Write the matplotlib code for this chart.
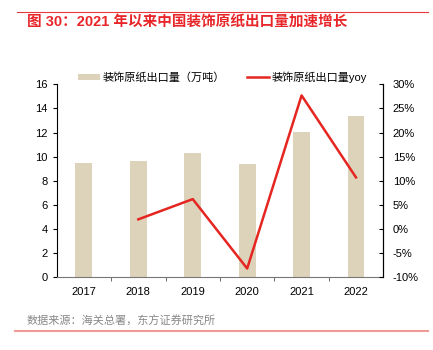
import matplotlib
matplotlib.use("Agg")
import matplotlib.pyplot as plt
from matplotlib.lines import Line2D
from matplotlib.patches import Patch
from matplotlib.ticker import FuncFormatter

plt.rcParams["font.family"] = ["Liberation Sans", "Noto Sans CJK SC", "DejaVu Sans"]

years = ["2017", "2018", "2019", "2020", "2021", "2022"]
volume = [9.45, 9.67, 10.28, 9.42, 12.04, 13.4]
yoy_years = ["2018", "2019", "2020", "2021", "2022"]
yoy = [2.0, 6.2, -8.2, 27.7, 10.7]

title = "图 30：2021 年以来中国装饰原纸出口量加速增长"
source = "数据来源：海关总署，东方证券研究所"
bar_label = "装饰原纸出口量（万吨）"
line_label = "装饰原纸出口量yoy"

bar_color = "#ddd3bb"
line_color = "#e52520"

fig = plt.figure(figsize=(4.33, 3.5), dpi=100)
ax = fig.add_axes([0.131, 0.208, 0.754, 0.551])
ax2 = ax.twinx()

x = list(range(len(years)))
ax.bar(x, volume, width=0.31, color=bar_color, zorder=2)
xl = [years.index(y) for y in yoy_years]
ax2.plot(xl, yoy, color=line_color, lw=1.8, zorder=3)

ax.set_xlim(-0.5, len(years) - 0.5)
ax.set_ylim(0, 16)
ax.set_yticks(range(0, 17, 2))
ax2.set_ylim(-10, 30)
ax2.set_yticks(range(-10, 31, 5))
ax2.yaxis.set_major_formatter(FuncFormatter(lambda v, p: f"{v:.0f}%"))

ax.set_xticks(x)
ax.set_xticklabels(years)
ax.set_xticks([i - 0.5 for i in range(1, len(years))], minor=True)
ax.tick_params(axis="x", which="major", length=0, labelsize=8, pad=7)
ax.tick_params(axis="x", which="minor", length=3, direction="out", color="#555555")
ax.tick_params(axis="y", length=3, direction="out", labelsize=8)
ax2.tick_params(axis="y", length=3, direction="in", labelsize=8, pad=7)

for a in (ax, ax2):
    a.spines["top"].set_visible(False)
ax.spines["bottom"].set_color("#777777")
ax2.spines["bottom"].set_visible(False)
ax.spines["left"].set_color("black")
ax2.spines["right"].set_color("black")
ax2.spines["left"].set_visible(False)
for a in (ax, ax2):
    for s in a.spines.values():
        s.set_linewidth(0.8)

handles = [
    Patch(facecolor=bar_color, label=bar_label),
    Line2D([0], [0], color=line_color, lw=1.8, label=line_label),
]
fig.legend(handles=handles, loc="center", bbox_to_anchor=(0.514, 0.78), ncol=2,
           frameon=False, fontsize=8, handlelength=2.0, handleheight=0.5,
           handletextpad=0.2, columnspacing=2.0)

fig.add_artist(Line2D([0.04, 0.988], [0.966, 0.966], color="#e8383d", lw=0.8))
fig.text(0.062, 0.937, title, color="#e8262a", fontsize=10.5, fontweight="bold",
         va="center", ha="left")
fig.text(0.062, 0.083, source, color="#888888", fontsize=8, va="center", ha="left")
fig.add_artist(Line2D([0.035, 0.988], [0.054, 0.054], color="#f09a9a", lw=1.5))

fig.savefig("out.png", dpi=100)
plt.close(fig)
